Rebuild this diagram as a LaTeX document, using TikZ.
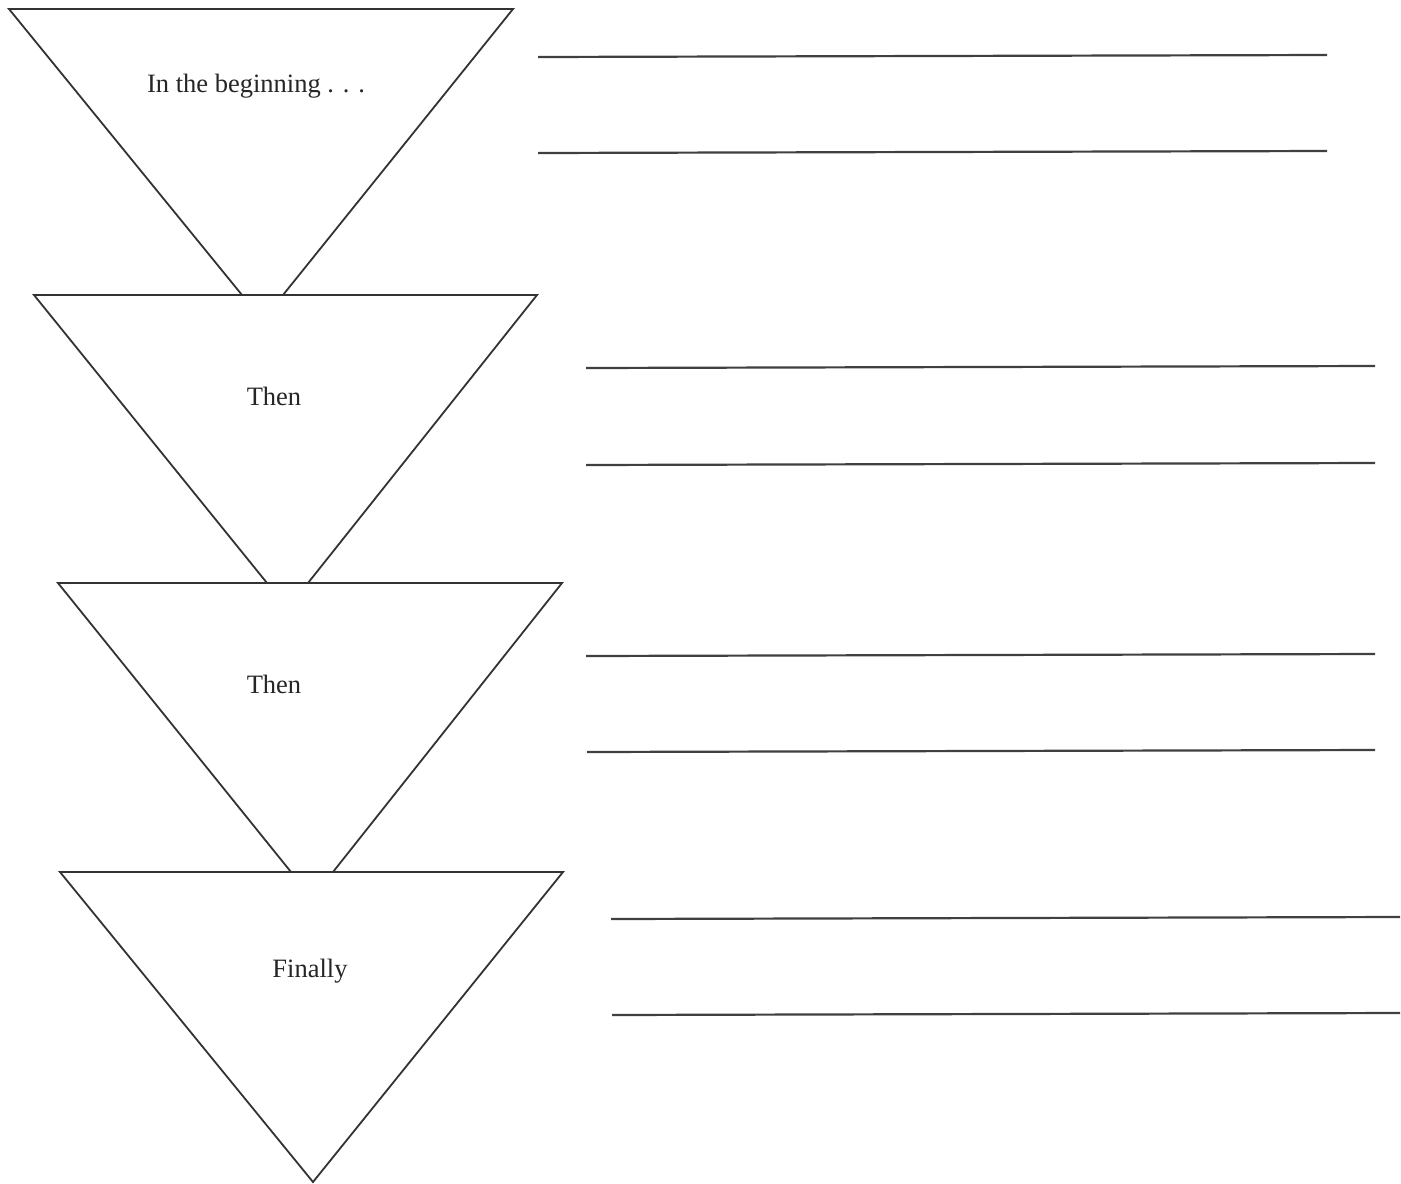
\documentclass[tikz,border=0pt]{standalone}
\usepackage{fontspec}
\setmainfont{Liberation Serif}
\begin{document}
\begin{tikzpicture}[x=1pt,y=-1pt,
  edge/.style={draw=black!80,line width=1.8pt,line join=miter},
  rule/.style={draw=black!75,line width=2.2pt},
  lbl/.style={font=\fontsize{26.5}{32}\selectfont,text=black!85,inner sep=0pt}]
\path[fill=white,use as bounding box] (0,0) rectangle (1401,1184);
% corners
\coordinate (t1l) at (9,9);   \coordinate (t1r) at (513,9);
\coordinate (f1l) at (242,295); \coordinate (f1r) at (283,295);
\coordinate (t2l) at (34,295); \coordinate (t2r) at (537,295);
\coordinate (f2l) at (267,583); \coordinate (f2r) at (308,583);
\coordinate (t3l) at (58,583); \coordinate (t3r) at (562,583);
\coordinate (f3l) at (291,872); \coordinate (f3r) at (333,872);
\coordinate (t4l) at (60,872); \coordinate (t4r) at (563,872);
\coordinate (apex) at (313,1182);
% triangles
\draw[edge] (f1l) -- (t1l) -- (t1r) -- (f1r);
\draw[edge] (f2l) -- (t2l) -- (t2r) -- (f2r);
\draw[edge] (f3l) -- (t3l) -- (t3r) -- (f3r);
\draw[edge] (apex) -- (t4l) -- (t4r) -- cycle;
% labels
\node[lbl] (l1) at (256,86) {In the beginning . . .};
\node[lbl] (l2) at (274,396) {Then};
\node[lbl] (l3) at (274,684) {Then};
\node[lbl] (l4) at (310,971) {Finally};
% writing lines
\coordinate (a1) at (538,57); \coordinate (b1) at (1327,55);
\coordinate (a2) at (538,153); \coordinate (b2) at (1327,151);
\coordinate (a3) at (586,368); \coordinate (b3) at (1375,366);
\coordinate (a4) at (586,465); \coordinate (b4) at (1375,463);
\coordinate (a5) at (586,656); \coordinate (b5) at (1375,654);
\coordinate (a6) at (587,752); \coordinate (b6) at (1375,750);
\coordinate (a7) at (611,919); \coordinate (b7) at (1400,917);
\coordinate (a8) at (612,1015); \coordinate (b8) at (1400,1013);
\foreach \i in {1,...,8}{\draw[rule] (a\i) -- (b\i);}
\end{tikzpicture}
\end{document}
